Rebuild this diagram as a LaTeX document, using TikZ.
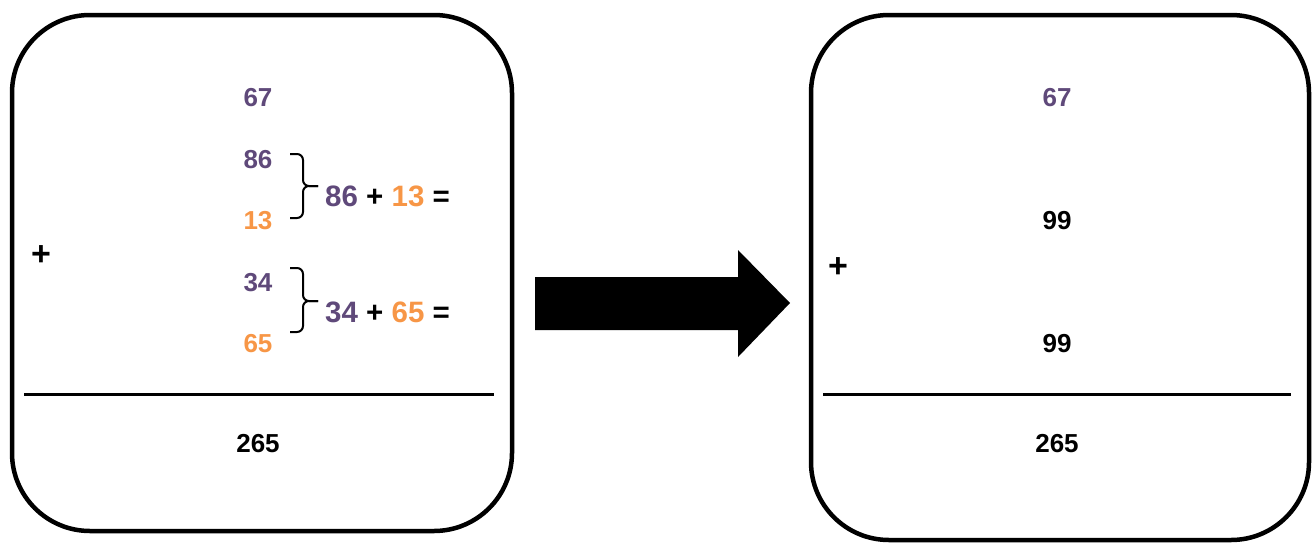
\documentclass[tikz,border=0pt]{standalone}
\usepackage{fontspec}
\setmainfont{Liberation Sans}
\definecolor{purp}{HTML}{5F497A}
\definecolor{orng}{HTML}{F79646}
\tikzset{
  panel/.style={draw=black, line width=4.5pt, rounded corners=78pt, rectangle, inner sep=0pt, fill=none},
  small/.style={font=\fontsize{26}{30}\selectfont\bfseries, inner sep=0pt},
  big/.style={font=\fontsize{29.5}{34}\selectfont\bfseries, inner sep=0pt, anchor=west},
  plus/.style={font=\fontsize{34}{38}\selectfont\bfseries, inner sep=0pt},
  rule/.style={line width=3pt},
  bracket/.style={line width=2pt, rounded corners=6pt},
}
\begin{document}
\begin{tikzpicture}[x=1pt,y=-1pt]
\useasboundingbox (0,0) rectangle (1313,544);
% panels
\node[panel, minimum width=500pt, minimum height=516pt] (leftbox) at (262,273) {};
\node[panel, minimum width=498pt, minimum height=525pt] (rightbox) at (1060,277.5) {};
% left panel
\node[small, text=purp] (l67) at (258,98) {67};
\node[small, text=purp] (l86) at (258,160) {86};
\node[small, text=orng] (l13) at (258,221) {13};
\node[small, text=purp] (l34) at (258,283) {34};
\node[small, text=orng] (l65) at (258,344) {65};
\node[plus] (lplus) at (41,256) {+};
% brackets
\coordinate (b1top) at (290,154);
\coordinate (b1bot) at (290,218);
\coordinate (b1tip) at (318,186);
\coordinate (b2top) at (290,268);
\coordinate (b2bot) at (290,332);
\coordinate (b2tip) at (318,301);
\draw[bracket] (b1top) -- ++(13,0) |- (b1tip);
\draw[bracket] (b1bot) -- ++(13,0) |- (b1tip);
\draw[bracket] (b2top) -- ++(13,0) |- (b2tip);
\draw[bracket] (b2bot) -- ++(13,0) |- (b2tip);
\node[big] (e1) at (325,196) {\textcolor{purp}{86} + \textcolor{orng}{13} =};
\node[big] (e2) at (325,312) {\textcolor{purp}{34} + \textcolor{orng}{65} =};
\coordinate (lr1) at (24,394);
\coordinate (lr2) at (494,394);
\draw[rule] (lr1) -- (lr2);
\node[small] (l265) at (258,444) {265};
% arrow
\fill[black] (535,277) -- (738,277) -- (738,250) -- (790,303) -- (738,357) -- (738,330) -- (535,330) -- cycle;
% right panel
\node[small, text=purp] (r67) at (1057,98) {67};
\node[small] (r99a) at (1057,221) {99};
\node[small] (r99b) at (1057,344) {99};
\node[plus] (rplus) at (838,268) {+};
\coordinate (rr1) at (823,394);
\coordinate (rr2) at (1291,394);
\draw[rule] (rr1) -- (rr2);
\node[small] (r265) at (1057,444) {265};
\end{tikzpicture}
\end{document}
